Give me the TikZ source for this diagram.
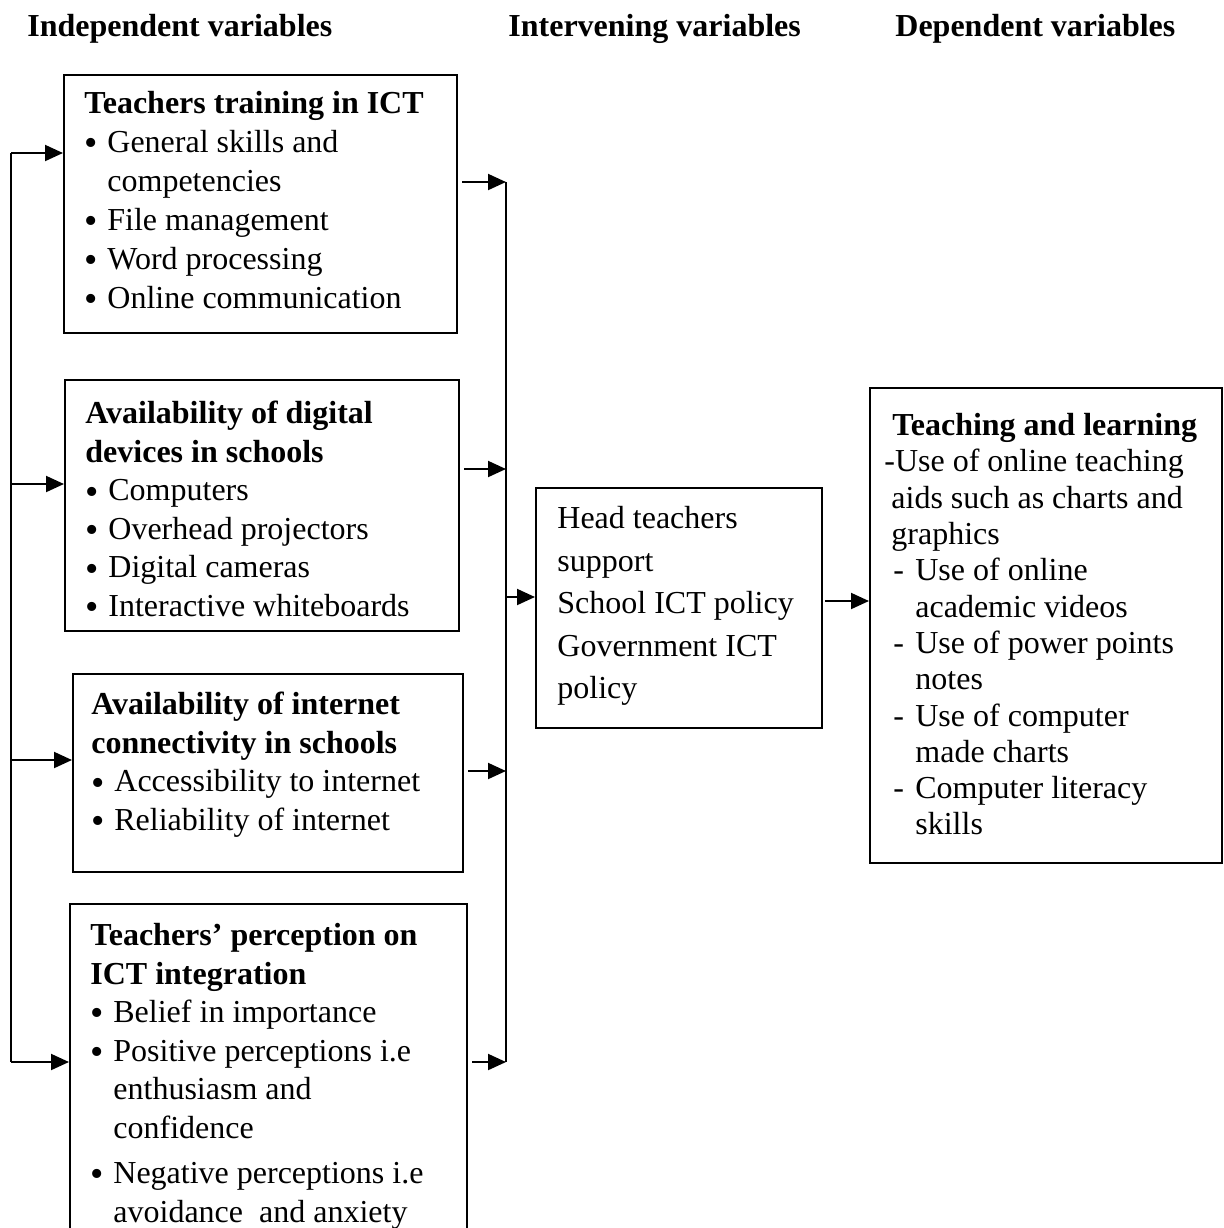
\documentclass[tikz,border=0pt]{standalone}
\usepackage{fontspec}
\setmainfont{Liberation Serif}
\usetikzlibrary{arrows.meta,positioning,calc}

\newcommand{\bul}{\makebox[11.5pt][l]{\raisebox{-1.6pt}{\fontsize{19}{19}\selectfont\textbullet}}}
\newcommand{\bulin}{\hspace*{11.5pt}}
\newcommand{\dsh}{\hspace*{4.5pt}\makebox[11pt][l]{-}}
\newcommand{\dshin}{\hspace*{15.5pt}}

\begin{document}
\begin{tikzpicture}[x=0.5pt,y=-0.5pt,>={Triangle[length=9pt,width=8pt]},
  boxframe/.style={draw,line width=1pt,anchor=north west,inner sep=0pt},
  boxtext/.style={anchor=north west,inner sep=0pt,align=left,font=\fontsize{16}{19.25}\selectfont},
  headtxt/.style={anchor=base west,inner sep=0pt,font=\fontsize{16}{19}\selectfont\bfseries},
  arr/.style={->,line width=1pt}]
\useasboundingbox (0,0) rectangle (1223,1228);
\clip (0,0) rectangle (1223,1228);

% column headings
\node[headtxt] (hind) at (27,36) {Independent variables};
\node[headtxt] (hint) at (508,36) {Intervening variables};
\node[headtxt] (hdep) at (895,36) {Dependent variables};

% independent variables
\node[boxframe,minimum width=196.5pt,minimum height=129pt] (train) at (63,74) {};
\node[boxtext,font=\fontsize{16}{19.5}\selectfont] (trainTxt) at (84,91) {\textbf{Teachers training in ICT}\\
  \bul General skills and\\ \bulin competencies\\ \bul File management\\
  \bul Word processing\\ \bul Online communication};

\node[boxframe,minimum width=197pt,minimum height=125.5pt] (devices) at (64,379) {};
\node[boxtext] (devicesTxt) at (85,401) {\textbf{Availability of digital}\\ \textbf{devices in schools}\\
  \bul Computers\\ \bul Overhead projectors\\ \bul Digital cameras\\ \bul Interactive whiteboards};

\node[boxframe,minimum width=195pt,minimum height=99pt] (internet) at (72,673) {};
\node[boxtext] (internetTxt) at (91,692) {\textbf{Availability of internet}\\ \textbf{connectivity in schools}\\
  \bul Accessibility to internet\\ \bul Reliability of internet};

\node[boxframe,minimum width=198.5pt,minimum height=170pt] (percep) at (69,903) {};
\node[boxtext] (percepTxt) at (90,923) {\textbf{Teachers’ perception on}\\ \textbf{ICT integration}\\
  \bul Belief in importance\\ \bul Positive perceptions i.e\\ \bulin enthusiasm and\\ \bulin confidence\\[3.5pt]
  \bul Negative perceptions i.e\\ \bulin avoidance\ \ and anxiety};

% intervening variables
\node[boxframe,minimum width=143pt,minimum height=120pt] (inter) at (535,487) {};
\node[boxtext,font=\fontsize{16}{21.25}\selectfont] (interTxt) at (557,506) {Head teachers\\ support\\
  School ICT policy\\ Government ICT\\ policy};

% dependent variables
\node[boxframe,minimum width=176pt,minimum height=237.5pt] (teach) at (869,387) {};
\node[boxtext,font=\fontsize{16}{18.15}\selectfont] (teachTxt) at (884,413) {\hspace*{4pt}\textbf{Teaching and learning}\\
  -Use of online teaching\\ \hspace*{3.5pt}aids such as charts and\\ \hspace*{3.5pt}graphics\\
  \dsh Use of online\\ \dshin academic videos\\ \dsh Use of power points\\ \dshin notes\\
  \dsh Use of computer\\ \dshin made charts\\ \dsh Computer literacy\\ \dshin skills};

% buses
\coordinate (lb1) at (11,153);
\coordinate (lb2) at (11,484);
\coordinate (lb3) at (11,760);
\coordinate (lb4) at (11,1062);
\coordinate (rb1) at (506,182);
\coordinate (rb2) at (506,469);
\coordinate (rb3) at (506,771);
\coordinate (rb4) at (506,1062);
\coordinate (rbm) at (506,597);

\draw[line width=1pt] (lb1) -- (lb4);
\draw[line width=1pt] (rb1) -- (rb4);

\draw[arr] (lb1) -- (lb1 -| train.west);
\draw[arr] (lb2) -- (lb2 -| devices.west);
\draw[arr] (lb3) -- (lb3 -| internet.west);
\draw[arr] (lb4) -- (lb4 -| percep.west);

\draw[arr] ([xshift=2pt]train.east |- rb1) -- (rb1);
\draw[arr] ([xshift=2pt]devices.east |- rb2) -- (rb2);
\draw[arr] ([xshift=2pt]internet.east |- rb3) -- (rb3);
\draw[arr] ([xshift=2pt]percep.east |- rb4) -- (rb4);

\draw[arr] (rbm) -- (rbm -| inter.west);
\draw[arr] ([xshift=1pt,yshift=3.5pt]inter.east) -- ([yshift=3.5pt]inter.east -| teach.west);
\end{tikzpicture}
\end{document}
